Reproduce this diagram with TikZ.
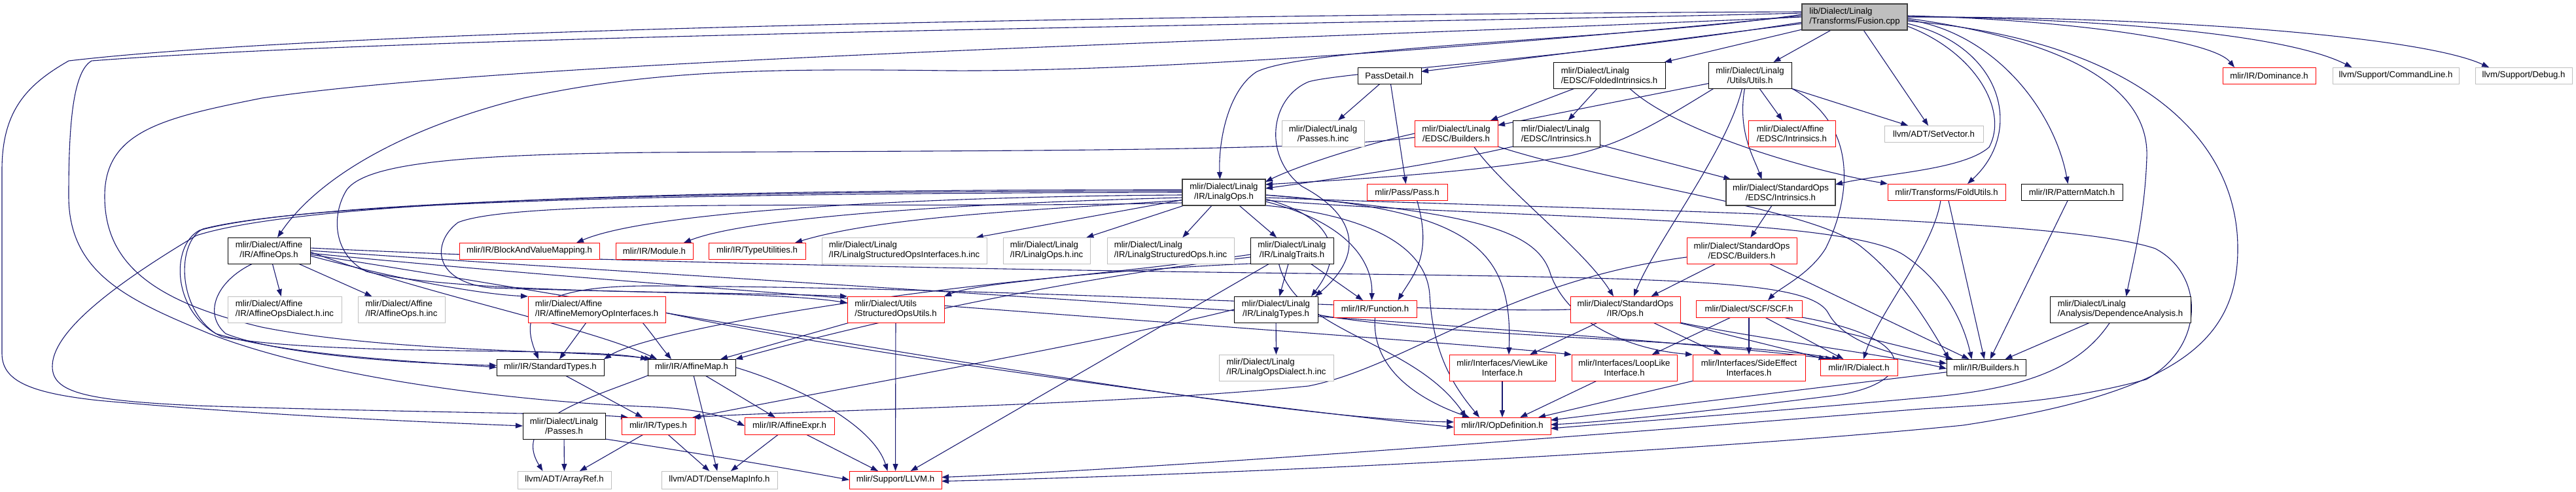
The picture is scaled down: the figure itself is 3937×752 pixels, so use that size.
\documentclass[tikz,border=0pt]{standalone}
\usepackage{fontspec}
\setmainfont{Liberation Sans}
\usetikzlibrary{arrows.meta,backgrounds}
\definecolor{edgec}{HTML}{191970}
\definecolor{grayb}{HTML}{BFBFBF}
\definecolor{darkb}{HTML}{404040}
\newcommand\mknode[7]{\node[#1,minimum width={(#5-#3)*1pt},minimum height={(#6-#4)*1pt}] (#2) at ({(#3+#5)/2},{(#4+#6)/2}) {#7};}
\tikzset{
 base/.style={fill=white,inner sep=0pt,outer sep=0pt,font=\fontsize{13.2}{15}\selectfont,align=center},
 nb/.style={base,draw=black,line width=1pt},
 nr/.style={base,draw=red,line width=1pt},
 ng/.style={base,draw=grayb,line width=1pt},
 nk/.style={base,draw=darkb,line width=1.8pt},
 rt/.style={base,draw=darkb,fill=grayb,line width=1.4pt},
 la/.style={align=left},
 e/.style={draw=edgec,line width=1.1pt,-{Triangle[length=11pt,width=8pt]}}
}
\begin{document}
\begin{tikzpicture}[x=1pt,y=-1pt]
\useasboundingbox (0,0) rectangle (3937,752);
% nodes
\mknode{rt,la}{fus}{2754}{6}{2915}{46}{lib/Dialect/Linalg\\/Transforms/Fusion.cpp}
\mknode{nb}{pd}{2075}{103}{2172}{128}{PassDetail.h}
\mknode{nb,la}{fi}{2374}{95}{2545}{135}{mlir/Dialect/Linalg\\/EDSC/FoldedIntrinsics.h}
\mknode{nb}{uu}{2611}{95}{2738}{135}{mlir/Dialect/Linalg\\/Utils/Utils.h}
\mknode{nr}{dom}{3397}{103}{3539}{128}{mlir/IR/Dominance.h}
\mknode{ng}{cl}{3565}{103}{3758}{128}{llvm/Support/CommandLine.h}
\mknode{ng}{dbg}{3783}{103}{3931}{128}{llvm/Support/Debug.h}
\mknode{ng}{phi}{1959}{184}{2085}{224}{mlir/Dialect/Linalg\\/Passes.h.inc}
\mknode{nr}{eb}{2162}{184}{2289}{224}{mlir/Dialect/Linalg\\/EDSC/Builders.h}
\mknode{nb,la}{ei}{2312}{184}{2445}{224}{mlir/Dialect/Linalg\\/EDSC/Intrinsics.h}
\mknode{nr,la}{aei}{2672}{184}{2805}{224}{mlir/Dialect/Affine\\/EDSC/Intrinsics.h}
\mknode{ng}{sv}{2880}{192}{3031}{217}{llvm/ADT/SetVector.h}
\mknode{nk}{lo}{1807}{274}{1934}{314}{mlir/Dialect/Linalg\\/IR/LinalgOps.h}
\mknode{nr}{pass}{2089}{281}{2212}{306}{mlir/Pass/Pass.h}
\mknode{nk}{sei}{2638}{274}{2805}{314}{mlir/Dialect/StandardOps\\/EDSC/Intrinsics.h}
\mknode{nr}{fu}{2885}{281}{3065}{306}{mlir/Transforms/FoldUtils.h}
\mknode{nb}{pm}{3089}{281}{3244}{306}{mlir/IR/PatternMatch.h}
\mknode{nb}{ao}{348}{363}{474}{403}{mlir/Dialect/Affine\\/IR/AffineOps.h}
\mknode{nr}{bvm}{702}{371}{916}{396}{mlir/IR/BlockAndValueMapping.h}
\mknode{nr}{mod}{941}{371}{1059}{396}{mlir/IR/Module.h}
\mknode{nr}{tu}{1083}{371}{1231}{396}{mlir/IR/TypeUtilities.h}
\mknode{ng,la}{soi}{1256}{363}{1508}{403}{mlir/Dialect/Linalg\\/IR/LinalgStructuredOpsInterfaces.h.inc}
\mknode{ng,la}{loi}{1533}{363}{1666}{403}{mlir/Dialect/Linalg\\/IR/LinalgOps.h.inc}
\mknode{ng,la}{sop}{1692}{363}{1886}{403}{mlir/Dialect/Linalg\\/IR/LinalgStructuredOps.h.inc}
\mknode{nb}{ltr}{1911}{363}{2038}{403}{mlir/Dialect/Linalg\\/IR/LinalgTraits.h}
\mknode{nr}{seb}{2578}{363}{2746}{403}{mlir/Dialect/StandardOps\\/EDSC/Builders.h}
\mknode{ng,la}{aoi}{348}{453}{522}{493}{mlir/Dialect/Affine\\/IR/AffineOpsDialect.h.inc}
\mknode{ng,la}{aoinc}{547}{453}{680}{493}{mlir/Dialect/Affine\\/IR/AffineOps.h.inc}
\mknode{nr,la}{amoi}{807}{453}{1017}{493}{mlir/Dialect/Affine\\/IR/AffineMemoryOpInterfaces.h}
\mknode{nr,la}{sou}{1295}{453}{1443}{493}{mlir/Dialect/Utils\\/StructuredOpsUtils.h}
\mknode{nb}{lty}{1886}{453}{2014}{493}{mlir/Dialect/Linalg\\/IR/LinalgTypes.h}
\mknode{nr}{fn}{2038}{459}{2165}{485}{mlir/IR/Function.h}
\mknode{nr}{sops}{2400}{453}{2568}{493}{mlir/Dialect/StandardOps\\/IR/Ops.h}
\mknode{nr}{scf}{2592}{459}{2754}{485}{mlir/Dialect/SCF/SCF.h}
\mknode{nb,la}{da}{3133}{453}{3348}{493}{mlir/Dialect/Linalg\\/Analysis/DependenceAnalysis.h}
\mknode{nb}{st}{759}{549}{923}{574}{mlir/IR/StandardTypes.h}
\mknode{nb}{am}{990}{549}{1124}{574}{mlir/IR/AffineMap.h}
\mknode{ng,la}{lod}{1863}{542}{2038}{582}{mlir/Dialect/Linalg\\/IR/LinalgOpsDialect.h.inc}
\mknode{nr}{vli}{2215}{542}{2377}{582}{mlir/Interfaces/ViewLike\\Interface.h}
\mknode{nr}{lli}{2402}{542}{2563}{582}{mlir/Interfaces/LoopLike\\Interface.h}
\mknode{nr}{sei2}{2587}{542}{2759}{582}{mlir/Interfaces/SideEffect\\Interfaces.h}
\mknode{nr}{dia}{2782}{549}{2900}{574}{mlir/IR/Dialect.h}
\mknode{nb}{bld}{2975}{549}{3096}{574}{mlir/IR/Builders.h}
\mknode{nb}{lp}{799}{631}{925}{671}{mlir/Dialect/Linalg\\/Passes.h}
\mknode{nr}{ty}{950}{638}{1062}{664}{mlir/IR/Types.h}
\mknode{nr}{ae}{1138}{638}{1275}{664}{mlir/IR/AffineExpr.h}
\mknode{nr}{od}{2222}{638}{2370}{664}{mlir/IR/OpDefinition.h}
\mknode{ng}{ar}{791}{720}{934}{747}{llvm/ADT/ArrayRef.h}
\mknode{ng}{dmi}{1011}{720}{1188}{747}{llvm/ADT/DenseMapInfo.h}
\mknode{nr}{llvm}{1298}{720}{1439}{747}{mlir/Support/LLVM.h}
\begin{pgfonlayer}{background}
% Fusion.cpp
\draw[e] (fus) -- (pd);
\draw[e] (fus) -- (fi);
\draw[e] (fus) -- (uu);
\draw[e] (fus) -- (sv);
\draw[e] ([yshift=2pt]fus.east) .. controls (3150,30) and (3380,60) .. ([xshift=-53pt]dom.north);
\draw[e] ([yshift=1pt]fus.east) .. controls (3250,30) and (3500,55) .. ([xshift=-67pt]cl.north);
\draw[e] ([yshift=0pt]fus.east) .. controls (3300,25) and (3700,55) .. ([xshift=-53pt]dbg.north);
\draw[e] ([yshift=-10pt]fus.east) .. controls (3060,70) and (3095,200) .. ([xshift=32pt]fu.north);
\draw[e] ([yshift=-4pt]fus.east) .. controls (3050,50) and (3140,170) .. ([xshift=-6pt]pm.north);
\draw[e] ([yshift=-14pt]fus.east) .. controls (3020,80) and (3070,170) .. (3040,225) .. controls (3000,260) and (2880,265) .. ([yshift=12pt]sei.east);
\draw[e] ([yshift=-2pt]fus.east) .. controls (3150,60) and (3285,130) .. (3281,240) .. controls (3278,330) and (3260,400) .. ([xshift=9pt]da.north);
\draw[e] ([yshift=-6pt]fus.east) .. controls (3250,60) and (3420,200) .. (3420,380) .. controls (3420,520) and (3330,600) .. (3000,650) .. controls (2600,690) and (1900,725) .. ([yshift=-2pt]llvm.east);
\draw[e] ([yshift=4pt]fus.west) .. controls (2500,60) and (2000,70) .. (1920,110) .. controls (1875,140) and (1862,220) .. ([xshift=-6pt]lo.north);
\draw[e] ([yshift=2pt]fus.west) .. controls (2400,60) and (1800,110) .. (1450,108) .. controls (1200,105) and (1000,105) .. (800,150) .. controls (600,200) and (480,280) .. ([xshift=13pt]ao.north);
\draw[e] ([yshift=8pt]fus.west) .. controls (2200,20) and (600,35) .. (105,93) .. controls (40,130) and (3,170) .. (3,260) -- (3,540) .. controls (3,580) and (40,600) .. (150,612) .. controls (400,635) and (650,645) .. (lp.west);
\draw[e] ([yshift=6pt]fus.west) .. controls (2200,35) and (700,50) .. (140,93) .. controls (110,110) and (105,200) .. (105,300) .. controls (105,420) and (200,460) .. (320,510) .. controls (500,580) and (800,615) .. (1000,622) .. controls (1080,626) and (1115,640) .. (ae.west);
\draw[e] ([yshift=0pt]fus.west) .. controls (2000,60) and (800,90) .. (400,150) .. controls (250,180) and (160,200) .. (160,300) .. controls (160,400) and (230,460) .. (400,500) .. controls (600,540) and (900,535) .. ([xshift=6pt]am.north west);
\draw[e] ([yshift=-8pt]fus.west) .. controls (2400,90) and (2050,110) .. (2000,125) .. controls (1940,150) and (1930,240) .. (1990,285) .. controls (2075,330) and (2085,390) .. ([xshift=-4pt]lty.north east);
% PassDetail, FoldedIntrinsics, Utils
\draw[e] (pd) -- (phi);
\draw[e] (pd) -- (pass);
\draw[e] (fi) -- (eb);
\draw[e] (fi) -- (ei);
\draw[e] ([xshift=31pt]fi.south) .. controls (2560,200) and (2760,260) .. (fu.north west);
\draw[e] (uu) -- (eb);
\draw[e] ([xshift=-55pt]uu.south) .. controls (2530,190) and (2480,220) .. (2400,238) .. controls (2250,265) and (2050,275) .. ([yshift=12pt]lo.east);
\draw[e] ([xshift=-12pt]uu.south) .. controls (2640,230) and (2530,370) .. ([xshift=13pt]sops.north);
\draw[e] ([xshift=-8pt]uu.south) .. controls (2655,200) and (2680,240) .. ([xshift=-29pt]sei.north);
\draw[e] (uu) -- (aei);
\draw[e] (uu) -- (sv);
\draw[e] (uu.south east) .. controls (2840,190) and (2830,300) .. (2790,380) .. controls (2765,420) and (2720,440) .. ([xshift=29pt]scf.north);
% Linalg EDSC Builders / Intrinsics
\draw[e] (eb.west) .. controls (2080,222) and (1980,255) .. ([yshift=16pt]lo.east);
\draw[e] ([xshift=27pt]eb.south) .. controls (2300,290) and (2420,380) .. ([xshift=-18pt]sops.north);
\draw[e] (eb.south east) .. controls (2500,290) and (2780,320) .. (2848,380) .. controls (2910,430) and (2950,500) .. ([xshift=4pt]bld.north west);
\draw[e] ([yshift=-6pt]eb.west) .. controls (2000,232) and (1500,230) .. (1000,233) .. controls (700,236) and (560,250) .. (530,290) .. controls (505,330) and (510,390) .. (560,415) .. controls (700,450) and (1100,445) .. (sou.north west);
\draw[e] (ei.south west) .. controls (2200,250) and (2050,272) .. ([yshift=6pt]lo.east);
\draw[e] (ei) -- (sei);
\draw[e] (sei) -- (seb);
% FoldUtils, PatternMatch, DependenceAnalysis, Pass
\draw[e] ([xshift=-9pt]fu.south) .. controls (2955,380) and (2870,480) .. ([xshift=7pt]dia.north);
\draw[e] (fu) -- (bld);
\draw[e] (pm) -- (bld);
\draw[e] (da) -- (bld);
\draw[e] ([xshift=-16pt]da.south) .. controls (3180,560) and (3100,595) .. (2937,608) .. controls (2700,630) and (2450,648) .. ([yshift=-4pt]od.east);
\draw[e] ([xshift=15pt]pass.south) .. controls (2190,390) and (2160,420) .. ([xshift=35pt]fn.north);
% LinalgOps
\draw[e] (lo) -- (ltr);
\draw[e] (lo) -- (sop);
\draw[e] (lo) -- (loi);
\draw[e] (lo) -- (soi);
\draw[e] ([yshift=-12pt]lo.west) .. controls (1600,320) and (1350,330) .. ([xshift=58pt]tu.north);
\draw[e] ([yshift=-8pt]lo.west) .. controls (1500,310) and (1150,330) .. ([xshift=45pt]mod.north);
\draw[e] ([yshift=-4pt]lo.west) .. controls (1450,300) and (1000,320) .. ([xshift=72pt]bvm.north);
\draw[e] (lo.west) .. controls (1300,295) and (500,300) .. (310,350) .. controls (270,370) and (270,470) .. (330,510) .. controls (450,545) and (650,553) .. (st.west);
\draw[e] ([yshift=2pt]lo.west) .. controls (1300,292) and (500,298) .. (305,352) .. controls (260,375) and (262,480) .. (340,515) .. controls (500,545) and (900,530) .. (am.north west);
\draw[e] ([yshift=4pt]lo.west) .. controls (1300,290) and (500,296) .. (300,360) .. controls (200,420) and (80,500) .. (80,560) .. controls (80,600) and (130,612) .. (300,620) .. controls (600,630) and (900,632) .. ([xshift=10pt]ty.north west);
\draw[e] ([yshift=-16pt]lo.west) .. controls (1400,320) and (800,300) .. (700,340) .. controls (660,370) and (660,430) .. (750,440) .. controls (1000,448) and (1200,448) .. ([yshift=10pt]sou.west);
\draw[e] ([yshift=-10pt]lo.east) .. controls (2030,330) and (2060,380) .. ([xshift=-10pt]lty.north east);
\draw[e] ([yshift=-14pt]lo.east) .. controls (2060,340) and (2098,400) .. ([xshift=-5pt]fn.north);
\draw[e] (lo.south east) .. controls (2100,330) and (2180,380) .. (2185,450) .. controls (2190,550) and (2230,600) .. ([xshift=-35pt]od.north);
\draw[e] ([yshift=-4pt]lo.east) .. controls (2250,320) and (2312,380) .. ([xshift=10pt]vli.north);
\draw[e] ([yshift=-4pt]lo.east) .. controls (2250,325) and (2350,350) .. (2370,420) .. controls (2400,500) and (2500,535) .. (sei2.north west);
\draw[e] ([yshift=-8pt]lo.east) .. controls (2400,320) and (3150,330) .. (3294,380) .. controls (3370,420) and (3370,530) .. (3280,580) .. controls (3150,615) and (3050,618) .. (2937,625) .. controls (2500,660) and (1800,715) .. ([yshift=4pt]llvm.east);
\draw[e] ([yshift=-12pt]lo.east) .. controls (2300,335) and (2820,330) .. (2910,390) .. controls (2970,430) and (3000,490) .. ([xshift=-22pt]bld.north);
% AffineOps
\draw[e] (ao) -- (aoi);
\draw[e] (ao) -- (aoinc);
\draw[e] ([yshift=-8pt]ao.east) .. controls (620,430) and (740,450) .. (amoi.north west);
\draw[e] ([xshift=-25pt]ao.south) .. controls (330,430) and (310,480) .. (345,510) .. controls (420,540) and (600,555) .. ([yshift=3pt]st.west);
\draw[e] ([yshift=-2pt]ao.east) .. controls (650,450) and (900,500) .. ([xshift=14pt]am.north west);
\draw[e] ([yshift=4pt]ao.east) .. controls (900,400) and (1500,412) .. (2000,418) .. controls (2600,425) and (2770,430) .. (2795,480) .. controls (2820,525) and (2900,545) .. ([yshift=6pt]bld.west);
\draw[e] (ao.east) .. controls (1000,420) and (2400,500) .. ([xshift=-40pt]dia.north);
\draw[e] ([yshift=-4pt]ao.east) .. controls (1000,440) and (2200,520) .. (lli.north west);
\draw[e] ([yshift=-6pt]ao.east) .. controls (1000,470) and (1900,640) .. ([yshift=6pt]od.west);
% AffineMemoryOpInterfaces
\draw[e] ([xshift=-16pt]amoi.south) -- ([xshift=14pt]st.north);
\draw[e] ([xshift=70pt]amoi.south) .. controls (1000,515) and (1010,530) .. ([xshift=36pt]am.north west);
\draw[e] ([yshift=-5pt]amoi.east) .. controls (1300,540) and (1900,620) .. ([yshift=-2pt]od.west);
% low level
\draw[e] (st) -- (ty);
\draw[e] (am.south west) .. controls (900,610) and (780,640) .. ([xshift=-33pt]ar.north);
\draw[e] (am) -- (dmi);
\draw[e] (am) -- (ae);
\draw[e] (am.east) .. controls (1220,590) and (1335,650) .. ([xshift=-12pt]llvm.north);
\draw[e] (ty) -- (ar);
\draw[e] (ty) -- (dmi);
\draw[e] (lp) -- (ar);
\draw[e] (lp.south east) .. controls (1050,690) and (1200,715) .. (llvm.west);
\draw[e] (ae) -- (dmi);
\draw[e] (ae) -- (llvm);
\draw[e] (sou) -- (llvm);
\draw[e] (sou) -- (am);
% LinalgTypes, LinalgTraits
\draw[e] (lty) -- (lod);
\draw[e] (lty.west) .. controls (1700,520) and (1250,600) .. ([xshift=-2pt]ty.north east);
\draw[e] ([yshift=-8pt]lty.east) .. controls (2200,515) and (2650,520) .. ([xshift=-30pt]dia.north);
\draw[e] (ltr) -- (lty);
\draw[e] (ltr) -- (fn);
\draw[e] (ltr) -- (llvm);
\draw[e] ([yshift=-6pt]ltr.west) .. controls (1700,420) and (1500,430) .. (sou.north east);
\draw[e] ([yshift=-10pt]ltr.west) .. controls (1600,430) and (1300,500) .. (am.north east);
\draw[e] (ltr.south west) .. controls (1500,420) and (1000,500) .. (st.north east);
\draw[e] ([xshift=-20pt]ltr.south) .. controls (1980,510) and (2160,520) .. ([xshift=-55pt]od.north);
% StandardOps, SCF
\draw[e] (sops) -- (vli);
\draw[e] (sops) -- (sei2);
\draw[e] (sops) -- (dia);
\draw[e] (sops.south east) .. controls (2700,520) and (2900,545) .. ([yshift=-2pt]bld.west);
\draw[e] (sops.west) .. controls (2200,480) and (1600,440) .. (1000,437) .. controls (830,436) and (790,470) .. ([xshift=-18pt]st.north);
\draw[e] (scf) -- (lli);
\draw[e] (scf) -- (sei2);
\draw[e] (scf) -- (dia);
\draw[e] (scf) -- (bld);
\draw[e] (scf.south east) .. controls (2950,520) and (2920,590) .. (2800,605) .. controls (2600,630) and (2450,645) .. ([yshift=2pt]od.east);
\draw[e] (seb) -- (sops);
\draw[e] (seb) -- (bld);
\draw[e] ([yshift=-10pt]seb.west) .. controls (2300,430) and (2150,560) .. (2000,590) .. controls (1700,620) and (1200,628) .. ([xshift=-4pt]ty.north east);
% into OpDefinition
\draw[e] (vli) -- (od);
\draw[e] (lli) -- (od);
\draw[e] (sei2) -- (od);
\draw[e] (bld) -- (od);
\draw[e] (fn.south) .. controls (2095,570) and (2180,615) .. ([xshift=-50pt]od.north);
\end{pgfonlayer}
\end{tikzpicture}
\end{document}
